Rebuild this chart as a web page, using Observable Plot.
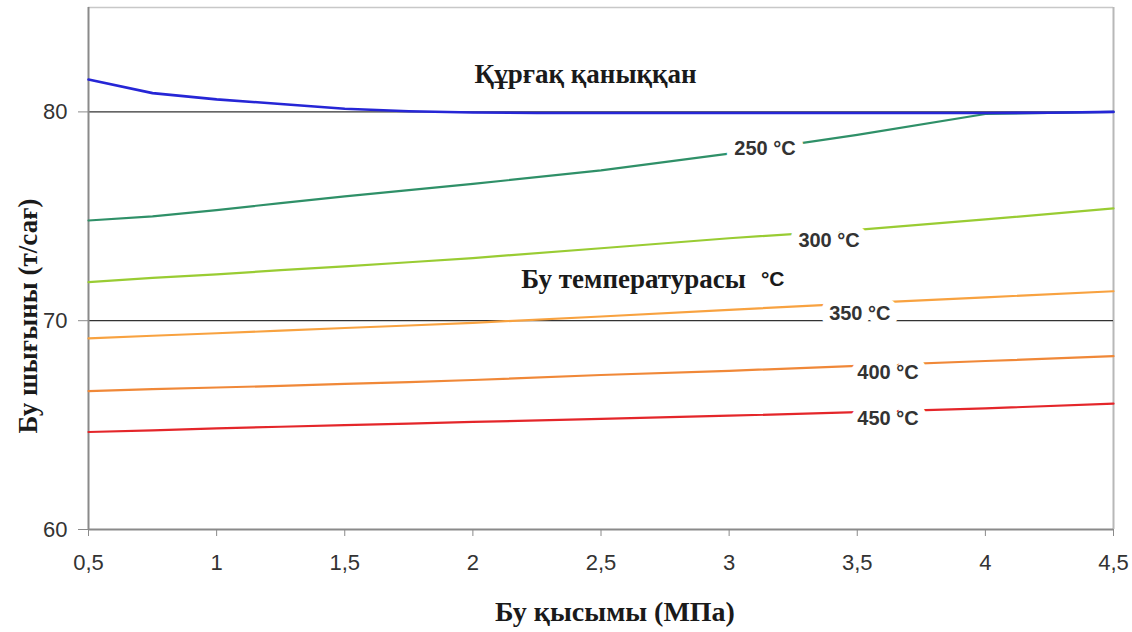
<!DOCTYPE html>
<html>
<head>
<meta charset="utf-8">
<script src="https://cdn.jsdelivr.net/npm/d3@7"></script>
<script src="https://cdn.jsdelivr.net/npm/@observablehq/plot@0.6"></script>
<style>
  html, body { margin: 0; padding: 0; background: #fff; }
  #wrap { position: relative; width: 1132px; height: 632px; overflow: hidden; }
  .ttl { position: absolute; font-family: "Liberation Serif", "Times New Roman", serif; font-weight: bold; color: #1a1a1a; white-space: nowrap; line-height: 1; }
  #ylab { left: 28px; top: 316px; font-size: 27px; transform: translate(-50%, -50%) rotate(-90deg); }
  #xlab { left: 615px; top: 612px; font-size: 28px; transform: translate(-50%, -50%); }
</style>
</head>
<body>
<div id="wrap">
  <div id="chart"></div>
  <div id="ylab" class="ttl">Бу шығыны (т/сағ)</div>
  <div id="xlab" class="ttl">Бу қысымы (МПа)</div>
</div>
<script>
// ---- data ----
const pressureFine = [0.5, 0.75, 1, 1.25, 1.5, 1.75, 2, 2.25, 2.5, 2.75, 3, 3.25, 3.5, 3.75, 4, 4.25, 4.5];
const saturated    = [81.55, 80.9, 80.6, 80.38, 80.15, 80.03, 79.97, 79.95, 79.95, 79.95, 79.95, 79.95, 79.95, 79.95, 79.95, 79.96, 80.0];

const pressure = [0.5, 0.75, 1, 1.25, 1.5, 1.75, 2, 2.5, 3, 3.5, 4, 4.5];
const t250 = [74.8, 75.0, 75.3, 75.63, 75.95, 76.25, 76.55, 77.2, 78.0, 78.9, 79.9, 80.0];
const t300 = [71.85, 72.05, 72.22, 72.42, 72.6, 72.8, 73.0, 73.47, 73.95, 74.35, 74.85, 75.38];
const t350 = [69.15, 69.28, 69.4, 69.52, 69.65, 69.77, 69.9, 70.2, 70.52, 70.83, 71.12, 71.41];
const t400 = [66.63, 66.72, 66.8, 66.88, 66.97, 67.06, 67.16, 67.4, 67.6, 67.84, 68.07, 68.3];
const t450 = [64.67, 64.75, 64.84, 64.92, 65.0, 65.07, 65.15, 65.3, 65.45, 65.62, 65.8, 66.03];

const seriesNames  = ["250 °C", "300 °C", "350 °C", "400 °C", "450 °C"];
const seriesValues = [t250, t300, t350, t400, t450];
const seriesColors = ["#2f9068", "#99cc33", "#f8a240", "#f08838", "#e4262a"];

// inline label positions (pressure, flow)
const labelX = [3.14, 3.39, 3.51, 3.62, 3.62];
const labelY = [78.25, 73.86, 70.36, 67.53, 65.32];

const annoSerifText = ["Құрғақ қаныққан", "Бу температурасы"];
const annoSerifX = [2.44, 2.627];
const annoSerifY = [81.82, 71.99];
const annoUnitText = ["°C"];
const annoUnitX = [3.17];
const annoUnitY = [71.99];

const xTicks = [0.5, 1, 1.5, 2, 2.5, 3, 3.5, 4, 4.5];
const yTicks = [60, 70, 80];
const gridY = [70, 80];

// ---- build tables ----
const satRows = pressureFine.map((p, i) => ({p, v: saturated[i]}));
const tempRows = seriesNames.flatMap((name, s) =>
  pressure.map((p, i) => ({p, v: seriesValues[s][i], name, color: seriesColors[s]})));
const labelRows = seriesNames.map((name, s) => ({name, x: labelX[s], y: labelY[s]}));
const serifRows = annoSerifText.map((t, i) => ({t, x: annoSerifX[i], y: annoSerifY[i]}));
const unitRows = annoUnitText.map((t, i) => ({t, x: annoUnitX[i], y: annoUnitY[i]}));

const fmt = d => String(d).replace(".", ",");

const chart = Plot.plot({
  width: 1132,
  height: 632,
  marginTop: 7,
  marginLeft: 88,
  marginRight: 19,
  marginBottom: 103,
  style: {fontFamily: "'Liberation Sans', Arial, sans-serif", fontSize: "22px", background: "#fff"},
  x: {domain: [0.5, 4.5]},
  y: {domain: [60, 85]},
  marks: [
    Plot.ruleY([85], {stroke: "#c8c8c8", strokeWidth: 1.5}),
    Plot.ruleX([4.5], {stroke: "#b8b8b8", strokeWidth: 2}),
    Plot.ruleY(gridY, {stroke: "#333", strokeWidth: 1.2}),
    Plot.ruleX([0.5], {stroke: "#8a8a8a", strokeWidth: 2}),
    Plot.ruleY([60], {stroke: "#8a8a8a", strokeWidth: 2}),
    Plot.axisX({ticks: xTicks, tickFormat: fmt, tickSize: 7, tickPadding: 18, stroke: "#8a8a8a", fill: "#333", label: null}),
    Plot.axisY({ticks: yTicks, tickSize: 10, tickPadding: 11, stroke: "#8a8a8a", fill: "#333", label: null}),
    Plot.line(tempRows, {x: "p", y: "v", z: "name", stroke: "color", strokeWidth: 2.2}),
    Plot.line(satRows, {x: "p", y: "v", stroke: "#2626d6", strokeWidth: 2.6}),
    Plot.text(labelRows, {x: "x", y: "y", text: "name", fill: "#333", stroke: "white", strokeWidth: 16,
      fontWeight: "bold", fontSize: 20, fontFamily: "'Liberation Sans', Arial, sans-serif"}),
    Plot.text(serifRows, {x: "x", y: "y", text: "t", fill: "#1a1a1a", fontWeight: "bold",
      fontSize: 27, fontFamily: "'Liberation Serif', 'Times New Roman', serif"}),
    Plot.text(unitRows, {x: "x", y: "y", text: "t", fill: "#1a1a1a", fontWeight: "bold",
      fontSize: 21, fontFamily: "'Liberation Sans', Arial, sans-serif"})
  ]
});
document.getElementById("chart").appendChild(chart);
</script>
</body>
</html>
